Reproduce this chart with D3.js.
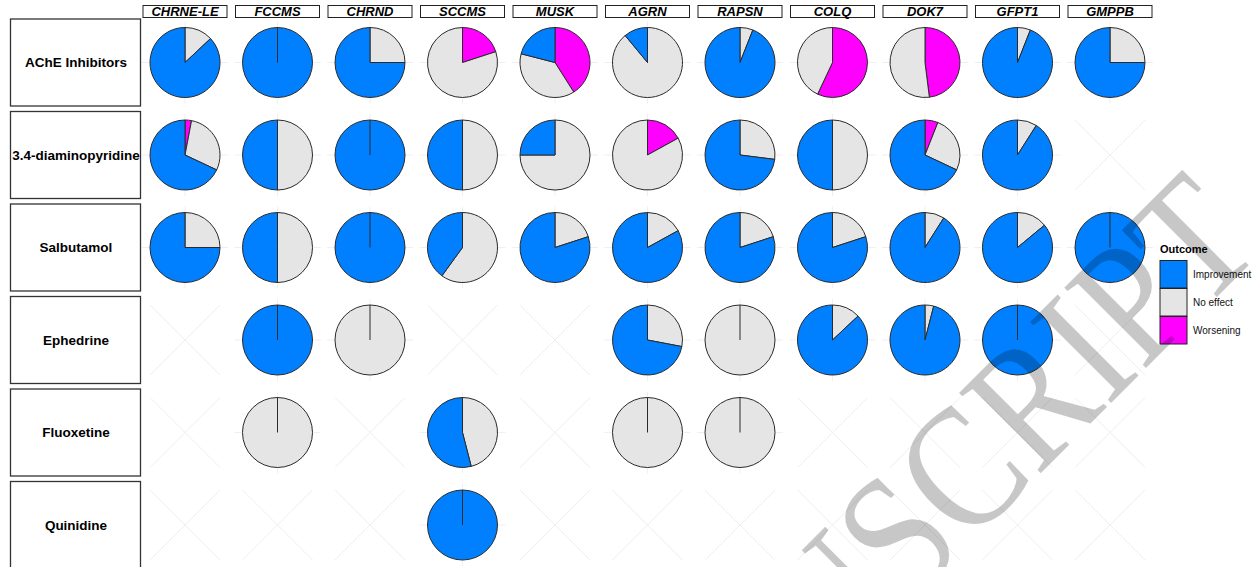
<!DOCTYPE html>
<html><head><meta charset="utf-8">
<script src="https://cdn.jsdelivr.net/npm/d3@7"></script>
<style>body{margin:0;background:#fff}svg{display:block}</style>
</head><body><svg id="c" width="1260" height="567"></svg>
<script>
const genes = ["CHRNE-LE","FCCMS","CHRND","SCCMS","MUSK","AGRN","RAPSN","COLQ","DOK7","GFPT1","GMPPB"];
const treatments = ["AChE Inhibitors","3.4-diaminopyridine","Salbutamol","Ephedrine","Fluoxetine","Quinidine"];
const outcomes = ["Improvement","No effect","Worsening"];
const outcomeColors = ["#0080FF","#E5E5E5","#FF00FF"];
// percentage of patients per cell (null = no data)
const improvement = [
  [87,100,75,0,21,11,94,0,0,94,75],
  [68,50,100,50,25,0,73,50,68,91,null],
  [75,50,100,40,80,83,80,80,91,86,100],
  [null,100,0,null,null,72,0,87,96,100,null],
  [null,0,null,54,null,0,0,null,null,null,null],
  [null,null,null,100,null,null,null,null,null,null,null]
];
const noEffect = [
  [13,0,25,80,38,89,6,43,52,6,25],
  [29,50,0,50,75,83,27,50,26,9,null],
  [25,50,0,60,20,17,20,20,9,14,0],
  [null,0,100,null,null,28,100,13,4,0,null],
  [null,100,null,46,null,100,100,null,null,null,null],
  [null,null,null,0,null,null,null,null,null,null,null]
];
const worsening = [
  [0,0,0,20,41,0,0,57,48,0,0],
  [3,0,0,0,0,17,0,0,6,0,null],
  [0,0,0,0,0,0,0,0,0,0,0],
  [null,0,0,null,null,0,0,0,0,0,null],
  [null,0,null,0,null,0,0,null,null,null,null],
  [null,null,null,0,null,null,null,null,null,null,null]
];

const svg = d3.select("#c");
const x = d3.scalePoint().domain(genes).range([185, 1110]);
const y = d3.scalePoint().domain(treatments).range([62.5, 525]);
const color = d3.scaleOrdinal().domain(outcomes).range(outcomeColors);
const R = 35;

// faint background guides
const bg = svg.append("g").attr("stroke","#efefef").attr("stroke-width",1);
treatments.forEach((t,i)=>{
  genes.forEach((g,j)=>{
    const cx = x(g), cy = y(t);
    if (improvement[i][j] === null) {
      bg.append("line").attr("x1",cx-R).attr("y1",cy-R).attr("x2",cx+R).attr("y2",cy+R);
      bg.append("line").attr("x1",cx-R).attr("y1",cy+R).attr("x2",cx+R).attr("y2",cy-R);
    } else {
      bg.append("line").attr("x1",cx-R-8).attr("y1",cy).attr("x2",cx+R+8).attr("y2",cy);
      bg.append("line").attr("x1",cx).attr("y1",cy-R-6).attr("x2",cx).attr("y2",cy+R+6);
    }
  });
});

// column headers
const hdr = svg.append("g");
genes.forEach(g=>{
  hdr.append("rect").attr("x",x(g)-42).attr("y",5.5).attr("width",84).attr("height",12)
    .attr("fill","#fff").attr("stroke","#222").attr("stroke-width",1);
  hdr.append("text").attr("x",x(g)).attr("y",16).attr("text-anchor","middle")
    .attr("font-family","Liberation Sans, Arial, sans-serif").attr("font-weight","bold")
    .attr("font-style","italic").attr("font-size",13).attr("fill","#000").text(g);
});

// row labels
const rl = svg.append("g");
treatments.forEach(t=>{
  rl.append("rect").attr("x",10.5).attr("y",y(t)-43.5).attr("width",130).attr("height",87)
    .attr("fill","#fff").attr("stroke","#333").attr("stroke-width",1.3);
  rl.append("text").attr("x",76).attr("y",y(t)+4.5).attr("text-anchor","middle")
    .attr("font-family","Liberation Sans, Arial, sans-serif").attr("font-weight","bold")
    .attr("font-size",13.5).attr("fill","#000").text(t);
});

// pies
const pie = d3.pie().sort(null).value(d=>d.v);
const arc = d3.arc().innerRadius(0).outerRadius(R);
const pies = svg.append("g");
treatments.forEach((t,i)=>{
  genes.forEach((g,j)=>{
    if (improvement[i][j] === null) return;
    const vals = [
      {k:"Worsening", v:worsening[i][j]},
      {k:"No effect", v:noEffect[i][j]},
      {k:"Improvement", v:improvement[i][j]}
    ].filter(d=>d.v>0);
    const gp = pies.append("g").attr("transform",`translate(${x(g)},${y(t)})`);
    gp.selectAll("path").data(pie(vals)).join("path")
      .attr("d",arc).attr("fill",d=>color(d.data.k))
      .attr("stroke","#2a2a2a").attr("stroke-width",1).attr("stroke-linejoin","round");
    if (vals.length === 1) {
      gp.append("line").attr("x1",0).attr("y1",0).attr("x2",0).attr("y2",-R)
        .attr("stroke","#2a2a2a").attr("stroke-width",1);
    }
  });
});

// legend
const lg = svg.append("g").attr("font-family","Liberation Sans, Arial, sans-serif");
lg.append("text").attr("x",1160).attr("y",253).attr("font-weight","bold").attr("font-size",11).text("Outcome");
outcomes.forEach((o,k)=>{
  lg.append("rect").attr("x",1160).attr("y",260.5+k*28).attr("width",27).attr("height",27.5)
    .attr("fill",color(o)).attr("stroke","#222").attr("stroke-width",1);
  lg.append("text").attr("x",1193).attr("y",278+k*28).attr("font-size",10).attr("fill","#111").text(o);
});

// watermark
svg.append("text").attr("transform","translate(1265,249) rotate(-45) scale(0.85,1)")
  .attr("text-anchor","end").attr("font-family","Liberation Serif, Times New Roman, serif")
  .attr("font-size",175).attr("fill","#000").attr("fill-opacity",0.22)
  .text("ACCEPTED MANUSCRIPT");
</script></body></html>
